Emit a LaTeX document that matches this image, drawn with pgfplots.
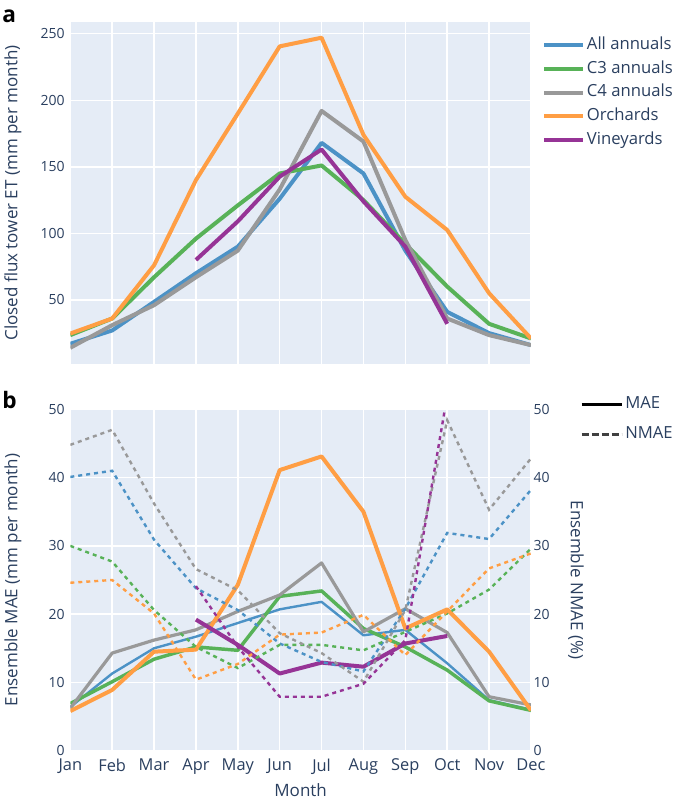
\documentclass[border=0pt]{standalone}
\usepackage{pgfplots}
\pgfplotsset{compat=1.18}
\usepackage{fontspec}
\setmainfont{Open Sans}

\definecolor{bgc}{HTML}{E5ECF6}
\definecolor{txt}{HTML}{2A3F5F}
\definecolor{cAll}{RGB}{76,146,198}
\definecolor{cC3}{RGB}{88,178,88}
\definecolor{cC4}{RGB}{153,153,153}
\definecolor{cOrch}{RGB}{255,158,68}
\definecolor{cVine}{RGB}{150,52,150}

\pgfplotsset{
  panel/.style={
    scale only axis, width=345.5pt,
    xmin=0, xmax=11,
    axis background/.style={fill=bgc},
    axis line style={draw=none},
    major tick length=0pt,
    grid=major, grid style={white, line width=1.1pt},
    xtick={0,...,11},
    /pgf/number format/assume math mode=true,
    tick label style={text=txt, font=\fontsize{10.5}{12}\selectfont},
    y tick label style={inner sep=0pt, xshift=-4pt},
    every axis y label/.style={at={(axis description cs:-0.1244,0.5)}, rotate=90, anchor=center,
      text=txt, font=\fontsize{12.75}{14}\selectfont},
  },
  nmae/.style={line width=1.8pt, dash pattern=on 3pt off 3pt},
}

\begin{document}
\begin{tikzpicture}
\path (0,0) rectangle (513.75pt,-600.75pt);
\node[anchor=base west, inner sep=0pt, font=\fontsize{17}{18}\bfseries\selectfont] at (0pt,-16.5pt) {a};
\node[anchor=base west, inner sep=0pt, font=\fontsize{17}{18}\bfseries\selectfont] at (0pt,-306pt) {b};

% panel a
\begin{axis}[panel, at={(51.2pt,-16.3pt)}, anchor=north west, height=257pt,
  ymin=1.5, ymax=259, ytick={50,100,150,200,250},
  xticklabels={},
  ylabel={Closed flux tower ET (mm per month)},
  legend style={at={(1.024,0.961)}, anchor=north west, draw=none, fill=none,
    font=\fontsize{12.5}{14}\selectfont, text=txt, inner sep=0pt, row sep=3.3pt,
    nodes={inner sep=1.5pt, text height=9pt, text depth=2.5pt}},
  legend cell align=left,
  legend image code/.code={\draw[#1] (0pt,0pt) -- (29pt,0pt);},
  every axis plot/.append style={line width=3pt, line join=round},
]
\addplot[cAll] coordinates {(0,17) (1,27) (2,48.5) (3,70) (4,90) (5,126) (6,168) (7,145) (8,87) (9,41) (10,25) (11,16)};
\addplot[cC3] coordinates {(0,23.5) (1,36) (2,67) (3,96) (4,121) (5,145) (6,151) (7,125) (8,92) (9,60) (10,32) (11,21)};
\addplot[cC4] coordinates {(0,14) (1,31) (2,46) (3,67) (4,87) (5,133) (6,192) (7,169) (8,95) (9,36) (10,23.5) (11,16)};
\addplot[cOrch] coordinates {(0,24.7) (1,36) (2,76) (3,140) (4,190) (5,240.5) (6,247) (7,174) (8,127.5) (9,102.5) (10,55) (11,21)};
\addplot[cVine] coordinates {(3,80) (4,109) (5,142.6) (6,163) (7,124) (8,90) (9,32)};
\legend{All annuals,C3 annuals,C4 annuals,Orchards,Vineyards}
\end{axis}

% panel b, MAE
\begin{axis}[panel, at={(51.2pt,-307pt)}, anchor=north west, height=256pt,
  ymin=0, ymax=50, ytick={0,10,...,50},
  xticklabels={Jan,Feb,Mar,Apr,May,Jun,Jul,Aug,Sep,Oct,Nov,Dec},
  x tick label style={font=\fontsize{12.3}{14}\selectfont, inner sep=0pt, yshift=-6pt},
  xlabel={Month},
  every axis x label/.style={at={(axis description cs:0.5,-0.115)}, anchor=center,
    text=txt, font=\fontsize{12.75}{14}\selectfont},
  ylabel={Ensemble MAE (mm per month)},
  every axis plot/.append style={line join=round},
]
\addplot[cAll, line width=1.8pt] coordinates {(0,6.4) (1,11.3) (2,15) (3,16.7) (4,18.7) (5,20.7) (6,21.8) (7,16.9) (8,17.7) (9,12.8) (10,7.4) (11,6)};
\addplot[cC3, line width=2.6pt] coordinates {(0,6.9) (1,10.1) (2,13.4) (3,15.2) (4,14.7) (5,22.6) (6,23.4) (7,17.9) (8,15.2) (9,11.8) (10,7.3) (11,5.9)};
\addplot[cC4, line width=2.4pt] coordinates {(0,6.2) (1,14.3) (2,16.2) (3,17.7) (4,20.4) (5,22.8) (6,27.5) (7,17.4) (8,20.8) (9,17.3) (10,7.9) (11,6.7)};
\addplot[cOrch, line width=3pt] coordinates {(0,5.8) (1,8.9) (2,14.5) (3,14.8) (4,24.3) (5,41.1) (6,43.1) (7,35) (8,17.9) (9,20.7) (10,14.5) (11,5.9)};
\addplot[cVine, line width=3pt] coordinates {(3,19.2) (4,15.5) (5,11.3) (6,12.9) (7,12.3) (8,15.7) (9,16.8)};
\end{axis}

% panel b, NMAE
\begin{axis}[panel, at={(51.2pt,-307pt)}, anchor=north west, height=256pt,
  ymin=0, ymax=50, ytick={0,10,...,50},
  axis background/.style={}, grid=none,
  axis y line*=right, axis x line=none,
  y tick label style={inner sep=0pt, xshift=5.8pt},
  ylabel={Ensemble NMAE (\%)},
  every axis y label/.style={at={(axis description cs:1.0977,0.5)}, rotate=-90, anchor=center,
    text=txt, font=\fontsize{12.75}{14}\selectfont},
  legend style={at={(1.106,1.044)}, anchor=north west, draw=none, fill=none,
    font=\fontsize{12.5}{14}\selectfont, text=txt, inner sep=0pt, row sep=8pt,
    nodes={inner sep=1.5pt, text height=9pt, text depth=2.5pt}},
  legend cell align=left,
  legend image code/.code={\draw[#1] (0pt,0pt) -- (30pt,0pt);},
]
\addlegendimage{black, line width=2.4pt}
\addlegendimage{black!75, line width=2.4pt, dash pattern=on 5.3pt off 2.2pt}
\addplot[cAll, nmae, forget plot] coordinates {(0,40.1) (1,41) (2,30.9) (3,23.8) (4,20.6) (5,15.7) (6,13) (7,11.6) (8,20.8) (9,31.9) (10,31) (11,38.2)};
\addplot[cC3, nmae, forget plot] coordinates {(0,30) (1,27.7) (2,20.6) (3,15.2) (4,12.1) (5,15.5) (6,15.5) (7,14.7) (8,17.4) (9,20.1) (10,23.6) (11,29.6)};
\addplot[cC4, nmae, forget plot] coordinates {(0,44.8) (1,47) (2,36.2) (3,26.6) (4,23.5) (5,17.2) (6,14.3) (7,10.1) (8,20.6) (9,48.4) (10,35.3) (11,42.8)};
\addplot[cOrch, nmae, forget plot] coordinates {(0,24.6) (1,25) (2,20.1) (3,10.4) (4,12.7) (5,17) (6,17.3) (7,19.9) (8,14) (9,20.4) (10,26.7) (11,28.9)};
\addplot[cVine, nmae, forget plot] coordinates {(3,24.1) (4,15.2) (5,7.9) (6,7.9) (7,9.8) (8,16.2) (9,52)};
\legend{MAE,NMAE}
\end{axis}
\end{tikzpicture}
\end{document}
